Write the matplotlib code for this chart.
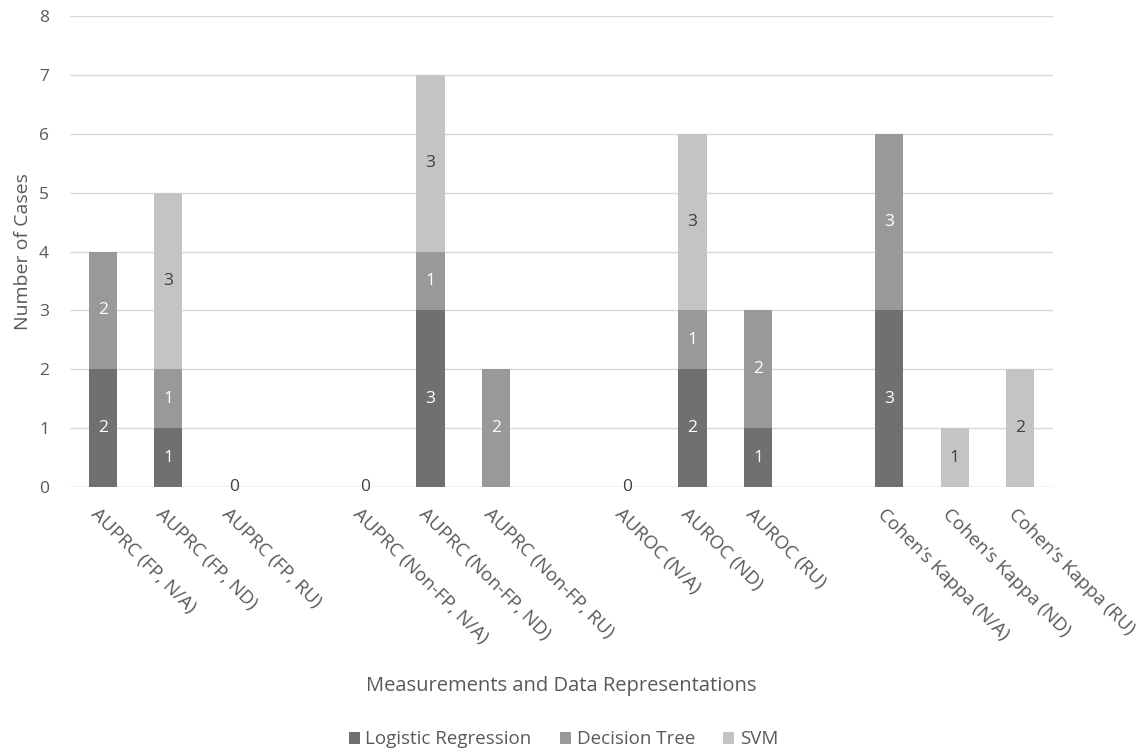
import matplotlib
matplotlib.use("Agg")
import matplotlib.pyplot as plt
import numpy as np
from matplotlib.patches import Patch

plt.rcParams['font.family'] = ['Open Sans', 'DejaVu Sans']

categories = [
    "AUPRC (FP, N/A)", "AUPRC (FP, ND)", "AUPRC (FP, RU)",
    "AUPRC (Non-FP, N/A)", "AUPRC (Non-FP, ND)", "AUPRC (Non-FP, RU)",
    "AUROC (N/A)", "AUROC (ND)", "AUROC (RU)",
    "Cohen\u2019s Kappa (N/A)", "Cohen\u2019s Kappa (ND)", "Cohen\u2019s Kappa (RU)",
]
logistic_regression = [2, 1, 0, 0, 3, 0, 0, 2, 1, 3, 0, 0]
decision_tree = [2, 1, 0, 0, 1, 2, 0, 1, 2, 3, 0, 0]
svm = [0, 3, 0, 0, 3, 0, 0, 3, 0, 0, 1, 2]
series_names = ["Logistic Regression", "Decision Tree", "SVM"]
y_ticks = [0, 1, 2, 3, 4, 5, 6, 7, 8]

colors = ["#707070", "#999999", "#c4c4c4"]
label_colors = ["white", "white", "#404040"]
text_color = "#595959"

# groups of three bars separated by an empty slot
positions = np.array([i + i // 3 for i in range(len(categories))], dtype=float)

fig = plt.figure(figsize=(11.43, 7.52), dpi=100)
ax = fig.add_axes([0.0612, 0.3524, 0.8601, 0.6263])

series = [logistic_regression, decision_tree, svm]
bottom = np.zeros(len(categories))
for vals, col, lcol in zip(series, colors, label_colors):
    vals = np.array(vals, dtype=float)
    ax.bar(positions, vals, width=0.43, bottom=bottom, color=col, zorder=3)
    for x, b, v in zip(positions, bottom, vals):
        if v > 0:
            ax.text(x, b + v / 2, f"{int(v)}", ha="center", va="center",
                    color=lcol, fontsize=12.5, zorder=4)
    bottom += vals

# totals of zero get a single "0" label on the baseline
for x, t in zip(positions, bottom):
    if t == 0:
        ax.text(x, 0, "0", ha="center", va="center", color="#404040",
                fontsize=12.5, zorder=4)

ax.set_xlim(-0.5, 14.5)
ax.set_ylim(0, 8)
ax.set_yticks(y_ticks)
ax.yaxis.grid(True, color="#d9d9d9", linewidth=1, zorder=0)
ax.set_axisbelow(True)
for s in ["top", "right", "left", "bottom"]:
    ax.spines[s].set_visible(False)
ax.axhline(0, color="#d9d9d9", linewidth=1, zorder=2)
ax.tick_params(axis="both", length=0, colors=text_color, labelsize=12.5)
ax.tick_params(axis="y", pad=15)

ax.set_xticks(positions)
ax.set_xticklabels([])
for x, lab in zip(positions, categories):
    ax.annotate(lab, xy=(x, 0), xycoords=("data", "axes fraction"),
                xytext=(-2, -13), textcoords="offset points",
                rotation=-45, rotation_mode="anchor", ha="left", va="top",
                color=text_color, fontsize=13.5)

ax.set_ylabel("Number of Cases", color=text_color, fontsize=14, labelpad=5)
fig.text(0.491, 0.088, "Measurements and Data Representations",
         ha="center", va="center", color=text_color, fontsize=14.5)

handles = [Patch(facecolor=c, edgecolor="none") for c in colors]
fig.legend(handles, series_names, loc="center", bbox_to_anchor=(0.493, 0.017),
           ncol=3, frameon=False, fontsize=13.5, labelcolor=text_color,
           handlelength=0.6, handleheight=0.6, handletextpad=0.3,
           columnspacing=1.5)

fig.savefig("out.png", dpi=100)
